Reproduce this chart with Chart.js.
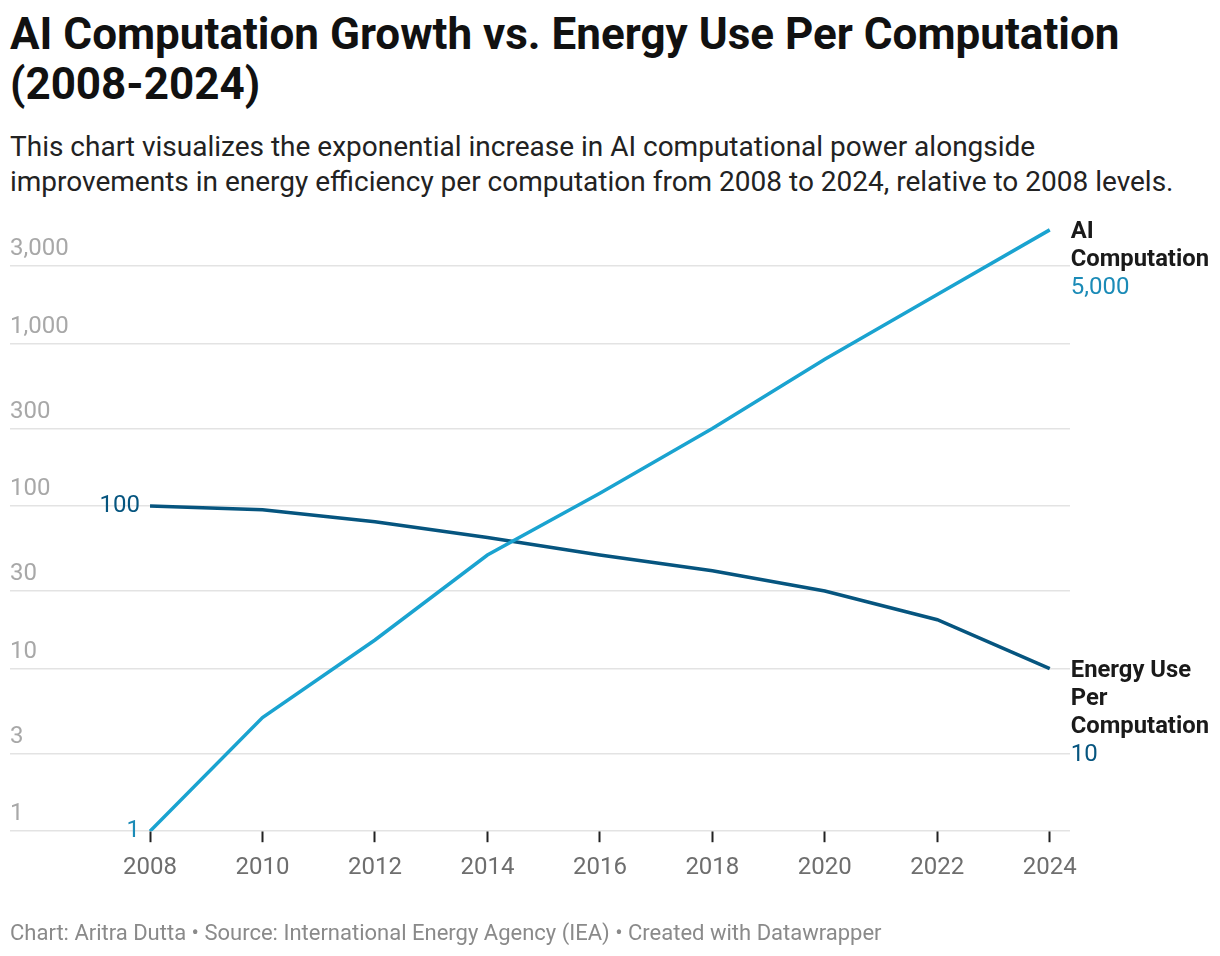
<!DOCTYPE html>
<html>
<head>
<meta charset="utf-8">
<script src="https://cdn.jsdelivr.net/npm/chart.js@4"></script>
<style>
  html, body { margin: 0; padding: 0; background: #fff; }
  body { width: 1220px; height: 956px; position: relative; overflow: hidden; font-family: Roboto, "Noto Sans", sans-serif; }
  #titulo { position: absolute; left: 10px; top: 9px; font-size: 44px; line-height: 50px; font-weight: 700; color: #111; white-space: nowrap; }
  #subtitulo { position: absolute; left: 10px; top: 129px; font-size: 28px; line-height: 35px; color: #222; white-space: nowrap; }
  #pie { position: absolute; left: 10px; top: 920px; font-size: 22px; line-height: 26px; color: #8a8a8a; white-space: nowrap; }
  #lienzo { position: absolute; left: 0; top: 0; }
</style>
</head>
<body>
<div id="titulo">AI Computation Growth vs. Energy Use Per Computation<br>(2008-2024)</div>
<div id="subtitulo">This chart visualizes the exponential increase in AI computational power alongside<br>improvements in energy efficiency per computation from 2008 to 2024, relative to 2008 levels.</div>
<canvas id="lienzo" width="1220" height="956"></canvas>
<div id="pie">Chart: Aritra Dutta • Source: International Energy Agency (IEA) • Created with Datawrapper</div>
<script>
// datos
var anios = [2008, 2010, 2012, 2014, 2016, 2018, 2020, 2022, 2024];
var computoIA = [1, 5, 15, 50, 120, 300, 800, 2000, 5000];
var energiaPorComputo = [100, 95, 80, 64, 50, 40, 30, 20, 10];
var marcasY = [1, 3, 10, 30, 100, 300, 1000, 3000];
var nombres = [['AI', 'Computation'], ['Energy Use', 'Per', 'Computation']];

var azulClaro = '#1aa3d0';
var azulOscuro = '#06557f';

var fmt = (v) => v.toLocaleString('en-US');
var puntos = (serie) => anios.map((a, i) => ({ x: a, y: serie[i] }));

// etiquetas al inicio y al final de cada linea
var etiquetas = {
	id: 'etiquetas',
	afterDatasetsDraw: (chart) => {
		var ctx = chart.ctx;
		ctx.save();
		chart.data.datasets.forEach((ds, i) => {
			var pts = chart.getDatasetMeta(i).data;
			var ini = pts[0], fin = pts[pts.length - 1];
			var valores = ds.data;
			ctx.textBaseline = 'middle';
			// valor inicial
			ctx.font = '24px Roboto';
			ctx.textAlign = 'right';
			ctx.fillStyle = ds.colorTexto;
			ctx.fillText(fmt(valores[0].y), ini.x - 10, ini.y);
			// nombre y valor final
			ctx.textAlign = 'left';
			var y = fin.y + 2;
			ctx.font = 'bold 23.8px Roboto';
			ctx.fillStyle = '#1a1a1a';
			nombres[i].forEach((linea) => {
				ctx.fillText(linea, fin.x + 21, y);
				y += 28;
			});
			ctx.font = '24px Roboto';
			ctx.fillStyle = ds.colorTexto;
			ctx.fillText(fmt(valores[valores.length - 1].y), fin.x + 21, y);
		});
		ctx.restore();
	}
};

var ctx = document.getElementById('lienzo').getContext('2d');
var grafico = new Chart(ctx, {
	type: 'line',
	data: {
		datasets: [{
			label: 'AI Computation',
			data: puntos(computoIA),
			borderColor: azulClaro,
			colorTexto: '#1b8bb7',
			borderWidth: 3.5,
			pointRadius: 0,
			tension: 0
		}, {
			label: 'Energy Use Per Computation',
			data: puntos(energiaPorComputo),
			borderColor: azulOscuro,
			colorTexto: azulOscuro,
			borderWidth: 3.5,
			pointRadius: 0,
			tension: 0
		}]
	},
	options: {
		responsive: false,
		animation: false,
		layout: { padding: { left: 10, right: 150, top: 217, bottom: 63 } },
		plugins: { legend: { display: false }, tooltip: { enabled: false } },
		scales: {
			x: {
				type: 'linear',
				min: 2005.51,
				max: 2024.36,
				afterBuildTicks: (eje) => { eje.ticks = anios.map((a) => ({ value: a })); },
				border: { display: false },
				grid: { drawOnChartArea: false, drawTicks: true, tickLength: 11, tickColor: '#222', tickWidth: 2 },
				ticks: { color: '#6e6e6e', font: { size: 24, family: 'Roboto' }, padding: 11, maxRotation: 0, callback: (v) => String(v) }
			},
			y: {
				type: 'logarithmic',
				min: 1,
				max: 6000,
				afterBuildTicks: (eje) => { eje.ticks = marcasY.map((v) => ({ value: v })); },
				border: { display: false },
				grid: { color: '#e3e3e3', lineWidth: 1.6, drawTicks: false },
				ticks: { mirror: true, padding: 0, labelOffset: -17, color: '#a8a8a8', font: { size: 24, family: 'Roboto' }, callback: (v) => fmt(v) }
			}
		}
	},
	plugins: [etiquetas]
});
</script>
</body>
</html>
